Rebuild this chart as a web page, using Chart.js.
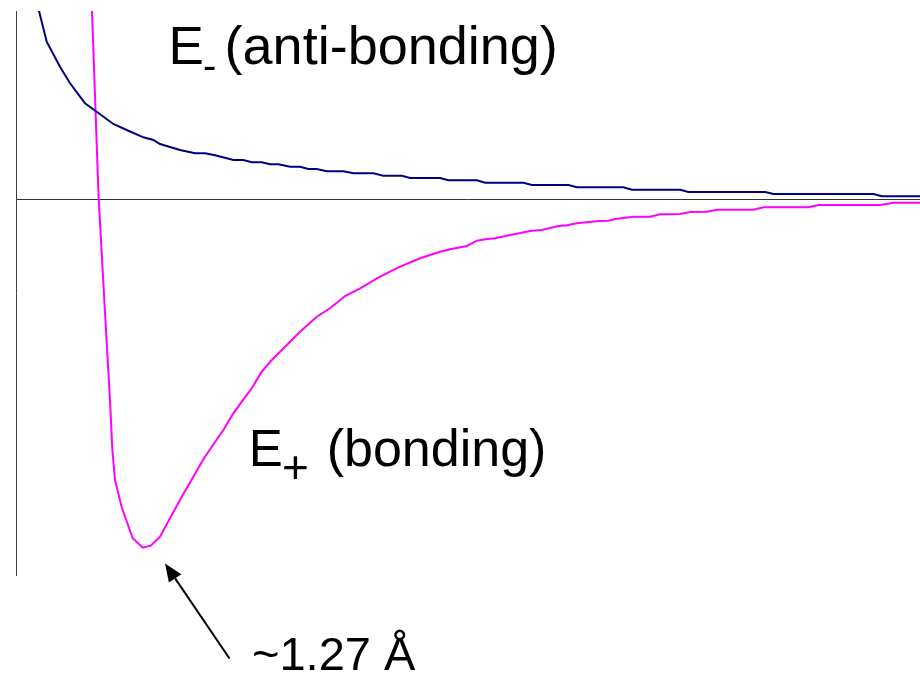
<!DOCTYPE html>
<html>
<head>
<meta charset="utf-8">
<title>H2+ bonding / anti-bonding energy</title>
<script src="https://cdn.jsdelivr.net/npm/chart.js@4/dist/chart.umd.min.js"></script>
<style>
    html, body { margin: 0; padding: 0; background: #ffffff; }
    #wrap { width: 920px; height: 674px; position: relative; }
</style>
</head>
<body>
<div id="wrap"><canvas id="energyChart"></canvas></div>
<script>
// Separation R in angstrom, energy in arbitrary units (0 = separated atoms)
const antiR = [0.185, 0.224, 0.299, 0.428, 0.526, 0.672, 0.786, 0.947, 1.078, 1.240,
    1.337, 1.402, 1.597, 1.743, 1.840, 1.938, 2.116, 2.213, 2.295, 2.392,
    2.473, 2.554, 2.668, 2.765, 2.846, 2.928, 3.025, 3.187, 3.284, 3.479,
    3.576, 3.756, 3.836, 4.128, 4.209, 4.486, 4.567, 4.940, 5.021, 5.378,
    5.460, 5.913, 5.995, 6.465, 6.546, 7.293, 7.374, 8.348, 8.429, 8.8];
const antiE = [2.04, 1.88, 1.573, 1.323, 1.157, 0.957, 0.873, 0.75, 0.69, 0.617,
    0.59, 0.55, 0.49, 0.457, 0.457, 0.437, 0.39, 0.39, 0.367, 0.367,
    0.347, 0.347, 0.323, 0.323, 0.30, 0.30, 0.277, 0.277, 0.257, 0.257,
    0.233, 0.233, 0.21, 0.21, 0.187, 0.187, 0.163, 0.163, 0.14, 0.14,
    0.117, 0.117, 0.093, 0.093, 0.07, 0.07, 0.05, 0.05, 0.027, 0.027];

const bondR = [0.733, 0.740, 0.798, 0.805, 0.865, 0.915, 0.938, 0.964, 1.029, 1.136,
    1.234, 1.312, 1.402, 1.516, 1.629, 1.726, 1.831, 2.019, 2.116, 2.198,
    2.295, 2.392, 2.490, 2.619, 2.765, 2.928, 3.057, 3.203, 3.350, 3.544,
    3.739, 3.934, 4.128, 4.226, 4.389, 4.486, 4.567, 4.664, 4.810, 5.021,
    5.119, 5.280, 5.362, 5.460, 5.557, 5.670, 5.767, 5.833, 6.011, 6.173,
    6.271, 6.465, 6.563, 6.725, 6.823, 7.179, 7.277, 7.715, 7.812, 8.413,
    8.542, 8.8];
const bondE = [2.09, 1.88, 0.19, 0, -1.11, -2.01, -2.51, -2.81, -3.083, -3.393,
    -3.487, -3.467, -3.377, -3.16, -2.95, -2.777, -2.59, -2.31, -2.143, -2.027,
    -1.893, -1.727, -1.61, -1.477, -1.327, -1.177, -1.093, -0.97, -0.893, -0.777,
    -0.677, -0.593, -0.527, -0.503, -0.47, -0.417, -0.403, -0.393, -0.36, -0.317,
    -0.31, -0.27, -0.263, -0.243, -0.233, -0.22, -0.217, -0.20, -0.177, -0.177,
    -0.153, -0.15, -0.13, -0.127, -0.107, -0.107, -0.083, -0.083, -0.06, -0.06,
    -0.037, -0.037];

const rRange = [0, 8.8];
const eRange = [-3.76, 1.88];

function toPoints(xs, ys) {
    return xs.map((x, i) => ({ x: x, y: ys[i] }));
}

// Labels and the arrow pointing at the well minimum
const labelPlugin = {
    id: 'curveLabels',
    afterDraw(chart) {
        const ctx = chart.ctx;
        ctx.save();
        ctx.fillStyle = '#000000';
        ctx.textAlign = 'left';
        ctx.textBaseline = 'alphabetic';
        const font = 'Arial, "Liberation Sans", sans-serif';

        // E- (anti-bonding)
        ctx.font = '53px ' + font;
        ctx.fillText('E', 168.5, 63.5);
        ctx.font = '40px ' + font;
        ctx.fillText('-', 203, 78.5);
        ctx.font = '54px ' + font;
        ctx.fillText('(anti-bonding)', 224.6, 63.5);

        // E+ (bonding)
        ctx.font = '51px ' + font;
        ctx.fillText('E', 248.8, 466);
        ctx.font = '46px ' + font;
        ctx.fillText('+', 282, 483);
        ctx.font = '52px ' + font;
        ctx.fillText('(bonding)', 326.7, 466);

        // bond length
        ctx.font = '47px ' + font;
        ctx.fillText('~1.27 \u00C5', 252, 670);

        // arrow
        const tail = { x: 229.5, y: 658.5 };
        const tip = { x: 165, y: 563.5 };
        const dx = tip.x - tail.x, dy = tip.y - tail.y;
        const len = Math.sqrt(dx * dx + dy * dy);
        const ux = dx / len, uy = dy / len;
        const headLen = 18, headHalf = 7.5;
        const bx = tip.x - ux * headLen, by = tip.y - uy * headLen;
        ctx.strokeStyle = '#000000';
        ctx.lineWidth = 2;
        ctx.beginPath();
        ctx.moveTo(tail.x, tail.y);
        ctx.lineTo(bx, by);
        ctx.stroke();
        ctx.beginPath();
        ctx.moveTo(tip.x, tip.y);
        ctx.lineTo(bx - uy * headHalf, by + ux * headHalf);
        ctx.lineTo(bx + uy * headHalf, by - ux * headHalf);
        ctx.closePath();
        ctx.fill();
        ctx.restore();
    }
};

new Chart(document.getElementById('energyChart'), {
    type: 'line',
    data: {
        datasets: [
            {
                label: 'E- (anti-bonding)',
                data: toPoints(antiR, antiE),
                borderColor: '#000080',
                borderWidth: 2,
                pointRadius: 0,
                tension: 0,
                fill: false
            },
            {
                label: 'E+ (bonding)',
                data: toPoints(bondR, bondE),
                borderColor: '#FF00FF',
                borderWidth: 2,
                pointRadius: 0,
                tension: 0,
                fill: false
            }
        ]
    },
    options: {
        responsive: true,
        maintainAspectRatio: false,
        animation: false,
        layout: {
            padding: { left: 16, top: 11, right: 0, bottom: 99 }
        },
        plugins: {
            legend: { display: false },
            tooltip: { enabled: false }
        },
        scales: {
            x: {
                type: 'linear',
                min: rRange[0],
                max: rRange[1],
                display: false
            },
            y: {
                type: 'linear',
                min: eRange[0],
                max: eRange[1],
                ticks: { display: false, stepSize: 1 },
                grid: {
                    drawTicks: false,
                    lineWidth: 1,
                    color: function(c) {
                        return c.tick && c.tick.value === 0 ? '#333333' : 'rgba(0,0,0,0)';
                    }
                },
                border: { display: true, color: '#404040', width: 1 }
            }
        }
    },
    plugins: [labelPlugin]
});
</script>
</body>
</html>
